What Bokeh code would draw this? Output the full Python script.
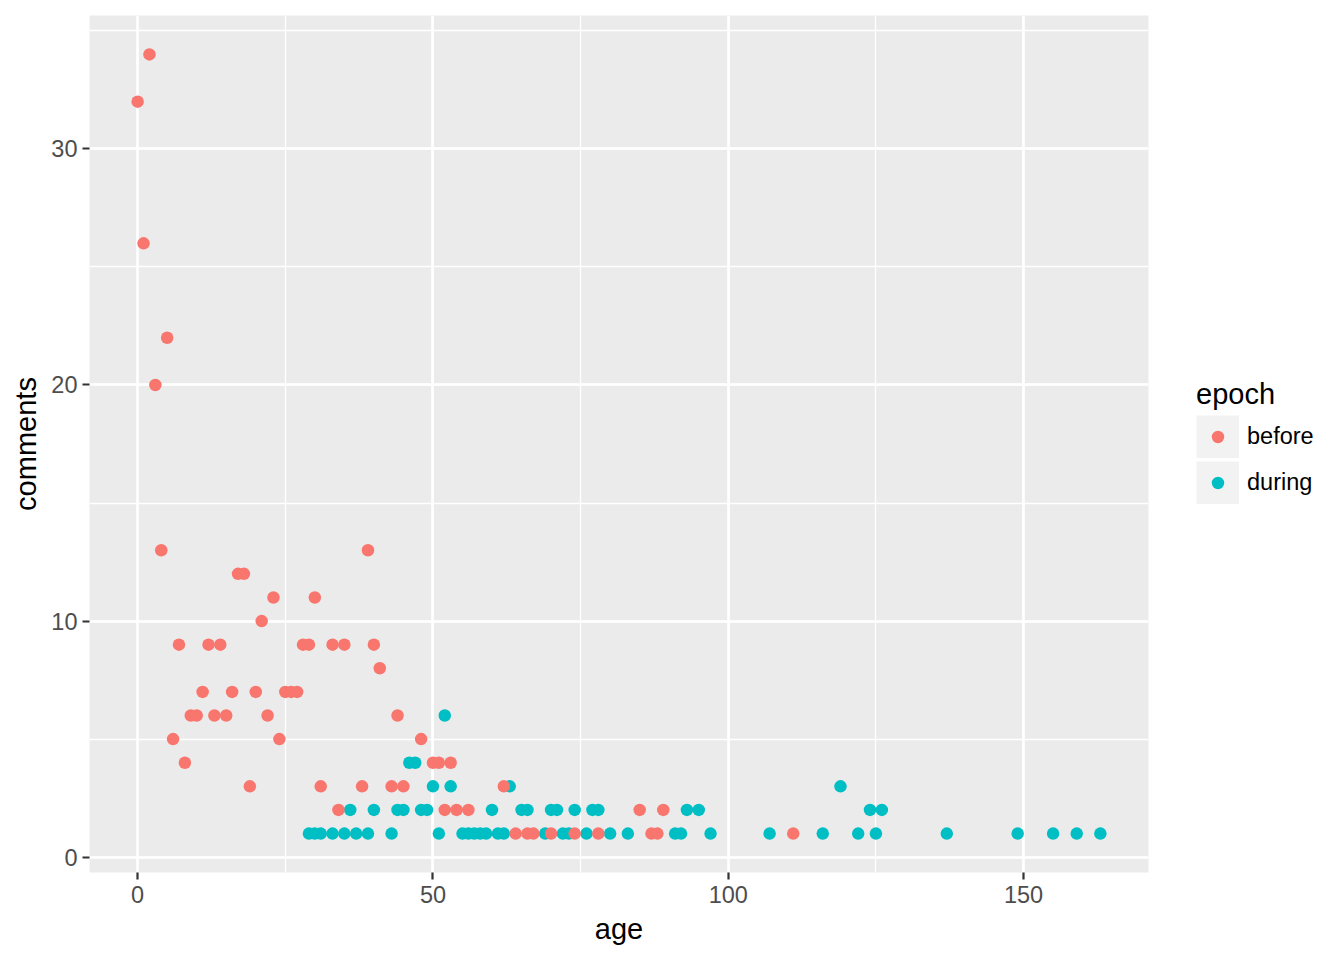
from bokeh.plotting import figure
from bokeh.models import Range1d, SingleIntervalTicker, Legend, LegendItem
from bokeh.embed import file_html
from bokeh.resources import INLINE

# ---- data ----
before_age = [0, 1, 2, 3, 4, 5, 6, 7, 8, 9, 10, 11, 12, 13, 14, 15, 16, 17, 18, 19,
              20, 21, 22, 23, 24, 25, 26, 27, 28, 29, 30, 31, 33, 34, 35, 38, 39, 40,
              41, 43, 44, 45, 48, 50, 51, 52, 53, 54, 56, 62, 64, 66, 67, 70, 74, 78,
              85, 87, 88, 89, 111]
before_comments = [32, 26, 34, 20, 13, 22, 5, 9, 4, 6, 6, 7, 9, 6, 9, 6, 7, 12, 12, 3,
                   7, 10, 6, 11, 5, 7, 7, 7, 9, 9, 11, 3, 9, 2, 9, 3, 13, 9,
                   8, 3, 6, 3, 5, 4, 4, 2, 4, 2, 2, 3, 1, 1, 1, 1, 1, 1,
                   2, 1, 1, 2, 1]
during_age = [29, 30, 31, 33, 35, 36, 37, 39, 40, 43, 44, 45, 46, 47, 48, 49, 50, 51,
              52, 53, 55, 56, 57, 58, 59, 60, 61, 62, 63, 65, 66, 69, 70, 71, 72, 73,
              74, 76, 77, 78, 80, 83, 91, 92, 93, 95, 97, 107, 116, 119, 122, 124,
              125, 126, 137, 149, 155, 159, 163]
during_comments = [1, 1, 1, 1, 1, 2, 1, 1, 2, 1, 2, 2, 4, 4, 2, 2, 3, 1,
                   6, 3, 1, 1, 1, 1, 1, 2, 1, 1, 3, 2, 2, 1, 2, 2, 1, 1,
                   2, 1, 2, 2, 1, 1, 1, 1, 2, 2, 1, 1, 1, 3, 1, 2,
                   1, 2, 1, 1, 1, 1, 1]
series_labels = ["before", "during"]
legend_title = "epoch"
x_label = "age"
y_label = "comments"

FONT = "Liberation Sans"
RED = "#F8766D"
TEAL = "#00BFC4"
KEY_BG = "#F2F2F2"
NAN = float("nan")

p = figure(frame_width=1059, frame_height=857, output_backend="svg",
           toolbar_location=None,
           x_range=Range1d(-8.15, 171.15), y_range=Range1d(-0.65, 35.65),
           min_border_left=89, min_border_right=196, min_border_top=15,
           min_border_bottom=88,
           background_fill_color="#EBEBEB", border_fill_color="white",
           outline_line_color=None)

xt = SingleIntervalTicker(interval=50, num_minor_ticks=2)
yt = SingleIntervalTicker(interval=10, num_minor_ticks=2)
p.xaxis.ticker = xt
p.yaxis.ticker = yt
p.xgrid.ticker = xt
p.ygrid.ticker = yt

for g in (p.xgrid, p.ygrid):
    g.grid_line_color = "white"
    g.grid_line_width = 2.6
    g.minor_grid_line_color = "white"
    g.minor_grid_line_width = 1.3

for ax in (p.xaxis, p.yaxis):
    ax.axis_line_color = None
    ax.major_tick_line_color = "#333333"
    ax.major_tick_line_width = 2.2
    ax.major_tick_out = 7
    ax.major_tick_in = 0
    ax.minor_tick_line_color = None
    ax.major_label_text_font = FONT
    ax.major_label_text_font_size = "23.5px"
    ax.major_label_text_color = "#4D4D4D"
    ax.axis_label_text_font = FONT
    ax.axis_label_text_font_size = "29px"
    ax.axis_label_text_font_style = "normal"
    ax.axis_label_text_color = "black"

p.xaxis.axis_label = x_label
p.yaxis.axis_label = y_label
p.xaxis.major_label_standoff = 6
p.yaxis.major_label_standoff = 5
p.xaxis.axis_label_standoff = 7
p.yaxis.axis_label_standoff = 6

# legend-only helpers (no visible marks in the plot): key background and a
# ring that trims the legend dot to the size of the plotted points
key_bg = p.line(x=[NAN], y=[NAN], line_color=KEY_BG, line_width=43)
key_ring = p.scatter(x=[NAN], y=[NAN], fill_color=None, line_color=KEY_BG,
                     line_width=4.8)

r_during = p.scatter(during_age, during_comments, size=12.5, fill_color=TEAL,
                     line_color=None)
r_before = p.scatter(before_age, before_comments, size=12.5, fill_color=RED,
                     line_color=None)

legend = Legend(items=[LegendItem(label=series_labels[0],
                                  renderers=[key_bg, r_before, key_ring]),
                       LegendItem(label=series_labels[1],
                                  renderers=[key_bg, r_during, key_ring])],
                location=(48, 368), title=legend_title,
                title_text_font=FONT, title_text_font_size="29px",
                title_text_font_style="normal", title_text_color="black",
                title_standoff=4,
                label_text_font=FONT, label_text_font_size="23.5px",
                label_text_color="black", label_standoff=8,
                glyph_width=43, glyph_height=43, label_height=43, spacing=3,
                padding=0, margin=0, border_line_color=None,
                background_fill_color="white", background_fill_alpha=1.0)
p.add_layout(legend, "right")

open("out.html", "w").write(file_html(p, INLINE))
